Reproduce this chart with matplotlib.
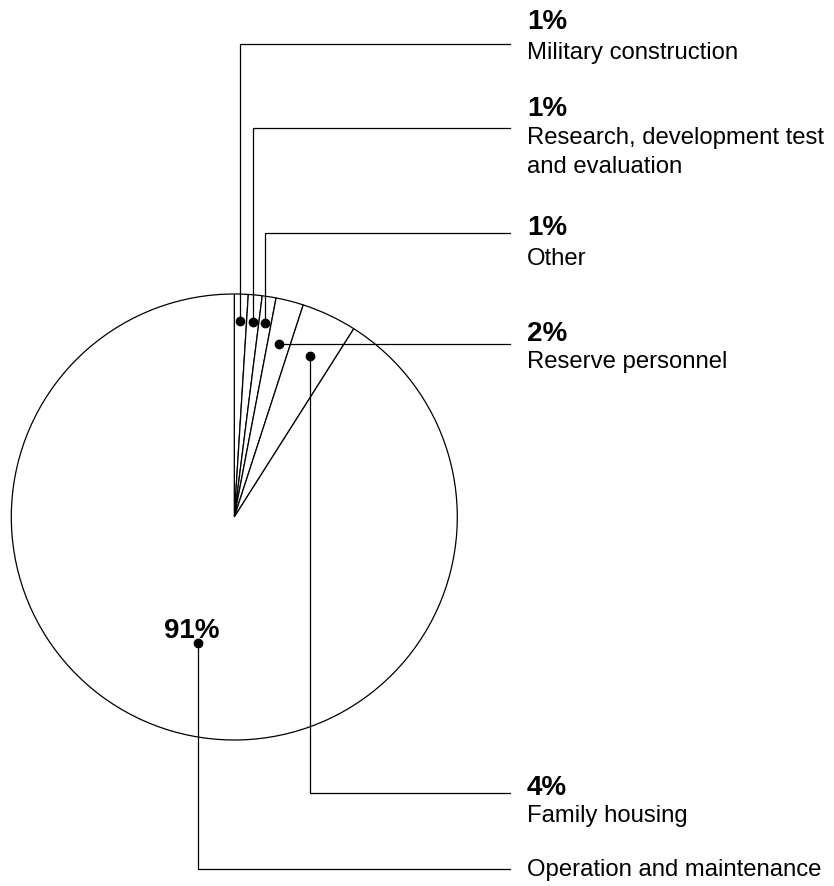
#!/usr/bin/env python3
"""
Budget share pie chart with leader-line labels (outline style, no fill)
"""
import numpy as np
import matplotlib
matplotlib.use("Agg")
import matplotlib.pyplot as plt

matplotlib.rcParams['font.family'] = ['Liberation Sans', 'DejaVu Sans']

# Data (clockwise from 12 o'clock)
categories = [
    "Military construction",
    "Research, development test\nand evaluation",
    "Other",
    "Reserve personnel",
    "Family housing",
    "Operation and maintenance",
]
shares = [1, 1, 1, 2, 4, 91]

# Layout (pixel units, top-left origin)
W, H = 834, 886
CENTER = (234.3, 517)
RADIUS = 223
DOT_R = [0.88, 0.88, 0.88, 0.80, 0.80, 0.59]          # dot distance, fraction of radius
LINE_Y = [44, 128, 233, None, 793, 869]               # None -> straight across from dot
PCT_BASE = [29, 116, 235, 341, 795, None]             # None -> percentage drawn inside pie
LABEL_BASE = [59, 144, 265, 368, 822, 876]
LINE_GAP = 29
LINE_END_X = 510
TEXT_X = 527


def ypix(py):
    """Convert top-origin pixel y to axes y"""
    return H - py


def main():
    fig = plt.figure(figsize=(W / 100, H / 100), dpi=100)
    ax = fig.add_axes([0, 0, 1, 1])

    cx, cy = CENTER[0], ypix(CENTER[1])
    wedges, _ = ax.pie(shares, startangle=90, counterclock=False,
                       center=(cx, cy), radius=RADIUS,
                       wedgeprops=dict(facecolor='white', edgecolor='black', linewidth=0.9))

    for i, (w, name, val) in enumerate(zip(wedges, categories, shares)):
        mid = np.deg2rad((w.theta1 + w.theta2) / 2)
        dx = cx + DOT_R[i] * RADIUS * np.cos(mid)
        dy = cy + DOT_R[i] * RADIUS * np.sin(mid)

        ly = dy if LINE_Y[i] is None else ypix(LINE_Y[i])
        ax.plot([dx, dx, LINE_END_X], [dy, ly, ly], color='black', lw=0.9,
                solid_joinstyle='miter', zorder=3)
        ax.plot(dx, dy, 'o', color='black', markersize=6, zorder=4)

        if PCT_BASE[i] is not None:
            ax.text(TEXT_X, ypix(PCT_BASE[i]), f"{val}%", fontsize=20, fontweight='bold',
                    ha='left', va='baseline')
        else:
            ax.text(dx - 6, dy + 5, f"{val}%", fontsize=20, fontweight='bold',
                    ha='center', va='baseline')

        # one text per line so every baseline sits where the reference has it
        for k, line in enumerate(name.split("\n")):
            ax.text(TEXT_X, ypix(LABEL_BASE[i] + k * LINE_GAP), line, fontsize=17.2,
                    ha='left', va='baseline')

    # pie() resets limits/aspect, so pin the pixel frame afterwards
    ax.set_xlim(0, W)
    ax.set_ylim(0, H)
    ax.set_aspect('equal')
    ax.axis('off')

    fig.savefig('out.png', dpi=100, facecolor='white')
    plt.close(fig)


if __name__ == "__main__":
    main()
